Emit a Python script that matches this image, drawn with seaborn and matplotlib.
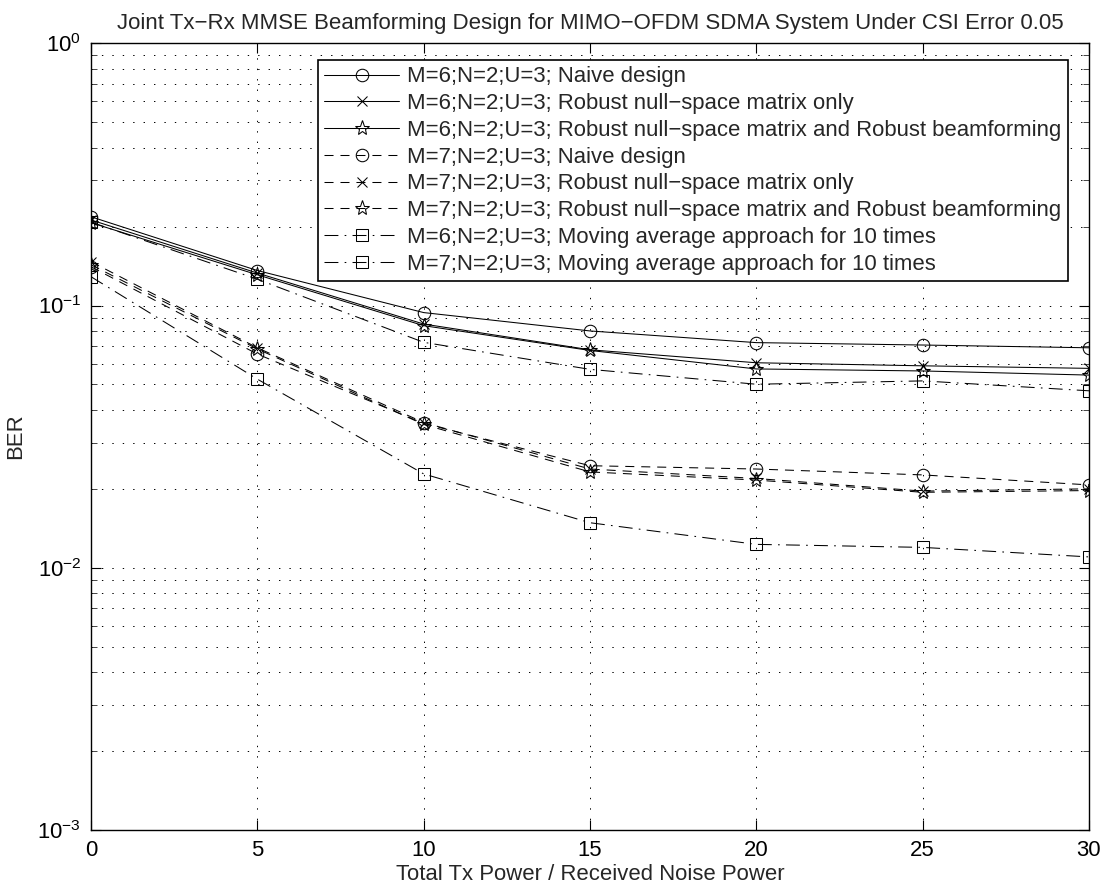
import numpy as np
import pandas as pd
import matplotlib
matplotlib.use("Agg")
import matplotlib.pyplot as plt
import seaborn as sns
from matplotlib.ticker import LogLocator, FixedLocator, NullFormatter

# ---------------- data ----------------
snr = [0, 5, 10, 15, 20, 25, 30]

m6_naive = [0.218, 0.136, 0.094, 0.080, 0.0722, 0.0707, 0.0690]
m6_robust_null = [0.212, 0.133, 0.085, 0.0678, 0.0605, 0.0589, 0.0576]
m6_robust_both = [0.207, 0.131, 0.0838, 0.0674, 0.0573, 0.0563, 0.0543]
m7_naive = [0.1406, 0.0653, 0.0355, 0.0245, 0.0238, 0.0226, 0.0207]
m7_robust_null = [0.147, 0.069, 0.0358, 0.0238, 0.0219, 0.0196, 0.0200]
m7_robust_both = [0.143, 0.0683, 0.0352, 0.0232, 0.0216, 0.0194, 0.0197]
m6_moving_avg = [0.208, 0.126, 0.0724, 0.0571, 0.0501, 0.0516, 0.0473]
m7_moving_avg = [0.1288, 0.0524, 0.0228, 0.01485, 0.01228, 0.01196, 0.0110]

labels = [
    "M=6;N=2;U=3; Naive design",
    "M=6;N=2;U=3; Robust null\u2212space matrix only",
    "M=6;N=2;U=3; Robust null\u2212space matrix and Robust beamforming",
    "M=7;N=2;U=3; Naive design",
    "M=7;N=2;U=3; Robust null\u2212space matrix only",
    "M=7;N=2;U=3; Robust null\u2212space matrix and Robust beamforming",
    "M=6;N=2;U=3; Moving average approach for 10 times",
    "M=7;N=2;U=3; Moving average approach for 10 times",
]
series = [m6_naive, m6_robust_null, m6_robust_both,
          m7_naive, m7_robust_null, m7_robust_both,
          m6_moving_avg, m7_moving_avg]

title = "Joint Tx\u2212Rx MMSE Beamforming Design for MIMO\u2212OFDM SDMA System Under CSI Error 0.05"
xlabel = "Total Tx Power / Received Noise Power"
ylabel = "BER"

# ---------------- styling ----------------
sns.set_theme(style="ticks")
plt.rcParams["font.family"] = ["Liberation Sans", "DejaVu Sans"]
plt.rcParams["mathtext.fontset"] = "custom"
plt.rcParams["mathtext.rm"] = "Liberation Sans"
plt.rcParams["mathtext.it"] = "Liberation Sans"
plt.rcParams["mathtext.bf"] = "Liberation Sans"
plt.rcParams["lines.scale_dashes"] = False

FS = 15.9
solid = "-"
dashed = (0, (6.5, 5.0))
dashdot = (0, (10, 4.5, 1.2, 4.5))
styles = [
    dict(marker="o", linestyle=solid, markersize=9),
    dict(marker="x", linestyle=solid, markersize=6.5),
    dict(marker="*", linestyle=solid, markersize=11),
    dict(marker="o", linestyle=dashed, markersize=9),
    dict(marker="x", linestyle=dashed, markersize=6.5),
    dict(marker="*", linestyle=dashed, markersize=11),
    dict(marker="s", linestyle=dashdot, markersize=8),
    dict(marker="s", linestyle=dashdot, markersize=8),
]

fig = plt.figure(figsize=(11.07, 8.88), dpi=100)
ax = fig.add_axes([91 / 1107, 1 - 830 / 888, (1089 - 91) / 1107, (830 - 43.3) / 888])

handles = []
for vals, lab, st in zip(series, labels, styles):
    df = pd.DataFrame({"x": snr, "y": vals})
    sns.lineplot(data=df, x="x", y="y", ax=ax, color="black", linewidth=0.75,
                 marker=st["marker"], linestyle=st["linestyle"],
                 markersize=st["markersize"], markerfacecolor="none",
                 markeredgecolor="black", markeredgewidth=0.75,
                 errorbar=None, sort=False, label=lab)
    handles.append(ax.lines[-1])

ax.set_yscale("log")
ax.set_xlim(0, 30)
ax.set_ylim(1e-3, 1)
ax.xaxis.set_major_locator(FixedLocator(snr))
ax.yaxis.set_major_locator(LogLocator(base=10, numticks=10))
ax.yaxis.set_minor_locator(LogLocator(base=10, subs=np.arange(2, 10), numticks=100))
ax.yaxis.set_minor_formatter(NullFormatter())

grid_ls = (0, (1.0, 6.5))
ax.grid(True, which="major", axis="both", color="black", linestyle=grid_ls, linewidth=0.7)
ax.grid(True, which="minor", axis="y", color="black", linestyle=grid_ls, linewidth=0.7)
ax.set_axisbelow(True)

for sp in ax.spines.values():
    sp.set_visible(True)
    sp.set_linewidth(1.0)
    sp.set_color("black")

ax.tick_params(which="major", direction="in", length=7, width=0.8, top=True, right=True,
               labelsize=FS, colors="black", pad=7)
ax.tick_params(which="minor", direction="in", length=4, width=0.6, top=False, right=True,
               left=True)

ax.set_title(title, fontsize=16.0, pad=10)
ax.set_xlabel(xlabel, fontsize=FS, labelpad=2)
ax.set_ylabel(ylabel, fontsize=FS, labelpad=8)

leg = ax.legend(handles=handles, labels=labels, loc="upper right",
                bbox_to_anchor=(0.979, 0.979), fontsize=FS, frameon=True,
                fancybox=False, shadow=False, borderaxespad=0.0,
                handlelength=3.4, handletextpad=0.35, labelspacing=0.26,
                borderpad=0.3)
leg.get_frame().set_edgecolor("black")
leg.get_frame().set_linewidth(1.2)
leg.get_frame().set_alpha(1.0)

fig.savefig("out.png", dpi=100, facecolor="white")
